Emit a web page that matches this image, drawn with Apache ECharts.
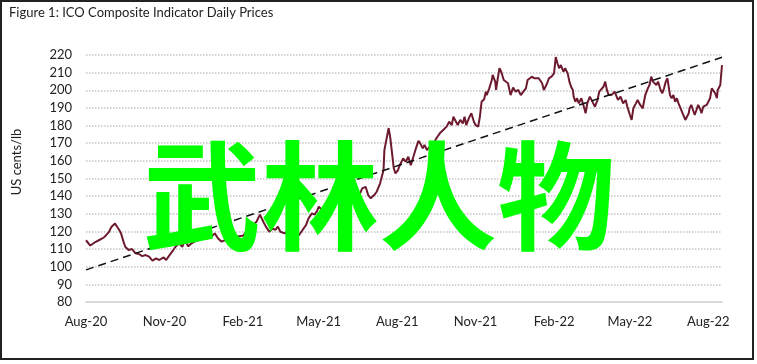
<!DOCTYPE html>
<html>
<head>
<meta charset="utf-8">
<script src="https://cdn.jsdelivr.net/npm/echarts@6/dist/echarts.min.js"></script>
<style>
html,body{margin:0;padding:0;background:#fff;}
#c{width:757px;height:364px;}
</style>
</head>
<body>
<div id="c"></div>
<script>
// Days since 2020-08-01
const days = [0,2,5,7,11,15,19,22,27,30,34,36,39,41,44,46,50,54,58,62,66,70,74,78,82,86,91,94,98,101,105,109,113,116,120,123,127,131,135,141,147,151,155,159,163,169,175,184,188,194,200,204,208,211,215,219,222,225,228,233,237,241,246,250,254,258,261,265,268,271,273,277,281,285,289,293,298,304,309,315,321,324,328,331,334,338,341,345,346,349,350,353,355,357,359,361,363,366,368,372,375,378,381,384,387,390,392,395,397,400,403,408,411,415,419,423,426,429,431,434,436,439,442,444,446,449,452,455,457,460,462,464,467,469,470,473,476,477,480,481,483,485,487,490,492,495,498,501,504,507,510,513,516,518,520,523,526,528,531,535,537,540,543,546,549,551,553,555,557,560,562,565,567,569,571,572,574,576,578,581,584,586,588,591,593,595,597,600,602,604,607,609,611,613,617,620,622,624,627,630,633,635,638,640,642,645,647,650,653,655,656,659,661,663,665,667,669,671,674,676,678,680,682,684,685,687,689,691,693,695,697,699,701,703,705,707,708,710,712,714,716,718,720,722,724,726,728,730,732,734,736,738,740,741,742,744,746];
// ICO composite indicator, US cents/lb
const prices = [115,116,112,111,114,115,116,117,119.8,122.7,124.5,123.6,120.8,119,114.2,111.3,109.5,110,107.6,107.2,106,106.6,105.7,103.4,104.7,103.8,105.3,103.8,106.6,108.5,111.3,113.3,111.3,115.1,111.5,113,114.2,115,116,116,117,118.9,116,114.2,115,116,117,117.5,119.8,122.7,125.5,129.5,125.5,122.7,119.8,121.7,120.8,122.7,119.8,118.9,120,119,117,118,120.8,123.6,127.4,130.2,129.5,131.5,134,132.1,132.9,134,135.9,137.8,139,137,140,142,141,144.4,145.3,140.6,138.8,140.6,142.5,147.3,146.3,154.8,166.1,173.7,178.6,172.8,164.3,155.8,152.9,154.8,157.5,161.4,159.5,162.3,157.6,162.3,167.1,171.4,169.9,167.1,169,166.1,168,170,172.8,175.6,177.5,179.4,182.2,180.3,185,182.2,180.3,183.2,181.2,185,180.3,184.1,187,182.2,180.3,179.4,185,193.5,194.9,199.2,197.3,201.1,205.8,208.7,204.9,200.2,206.8,212.5,210.5,205.8,204.9,204,197.3,201.5,199.2,200.2,197.3,199.2,201.1,205.8,206.8,207.7,206.8,205.8,206.8,204,200.2,203,206.8,207.7,209.6,218.8,215.3,212.5,214.3,210.5,212.5,209.6,204.9,202,200.2,196.4,193.5,195.5,192.6,195.5,190.7,187,192.6,196.4,195.5,192.6,190.7,194.5,199.2,200.2,202,204.9,200.2,197.3,197.5,199.2,200.2,194.5,196.4,192.6,194.5,190.7,186,183.2,189.8,192.6,194.5,191.7,189.8,188.8,197.3,201.1,203,207.7,204.9,205.8,203,204.9,200.2,198.3,201.1,204.9,206.8,207.7,197.3,195.5,197.3,193.5,195.5,192.6,191.7,187.9,187,183.2,182.2,187,189.8,191.7,188.8,186,188.8,191.7,189.8,187,190.7,190.7,191.7,190.7,195.5,201.1,200.2,198.3,195.5,200.2,201.1,203,214.3];
// Linear trend end points
const trendDays = [0, 746];
const trendValues = [98.2, 218.7];
// Tick labels
const xTickDays = [0, 92, 184, 273, 365, 457, 549, 638, 730];
const xTickLabels = ['Aug-20','Nov-20','Feb-21','May-21','Aug-21','Nov-21','Feb-22','May-22','Aug-22'];

const FONT = 'Lato, "Noto Sans", sans-serif';
const chart = echarts.init(document.getElementById('c'), null, {renderer: 'canvas'});
chart.setOption({
  animation: false,
  backgroundColor: '#fff',
  grid: {left: 86, right: 35, top: 55, bottom: 62},
  xAxis: {
    type: 'value', min: 0, max: 746,
    axisLine: {show: true, onZero: false, lineStyle: {color: '#d9d9d9', width: 2}},
    axisTick: {show: false},
    splitLine: {show: false},
    axisLabel: {
      customValues: xTickDays,
      formatter: v => xTickLabels[xTickDays.indexOf(v)] || '',
      color: '#222', fontFamily: FONT, fontSize: 13, margin: 13
    }
  },
  yAxis: {
    type: 'value', min: 80, max: 220, interval: 10,
    axisLine: {show: false}, axisTick: {show: false},
    splitLine: {lineStyle: {color: '#c4c4c4', width: 1.5, type: [1.5, 1.5]}},
    axisLabel: {color: '#222', fontFamily: FONT, fontSize: 13, margin: 14}
  },
  series: [
    {type: 'line', data: days.map((d, i) => [d, prices[i]]), showSymbol: false,
     lineStyle: {color: '#6d1a2e', width: 2}, z: 2},
    {type: 'line', data: trendDays.map((d, i) => [d, trendValues[i]]), showSymbol: false,
     lineStyle: {color: '#111', width: 1.5, type: [8, 5]}, z: 3}
  ],
  graphic: [
    {type: 'rect', shape: {x: 1, y: 1, width: 752, height: 358}, style: {fill: 'none', stroke: '#222', lineWidth: 2}, z: 10},
    {type: 'text', left: 9, top: 6, style: {text: 'Figure 1: ICO Composite Indicator Daily Prices', font: '13px ' + FONT, fill: '#222'}, z: 10},
    {type: 'text', x: 17, y: 162, rotation: Math.PI / 2, style: {text: 'US cents/lb', font: '13px ' + FONT, fill: '#222', align: 'center', verticalAlign: 'middle'}, z: 10},
    {type: 'text', x: 379, y: 196, style: {text: '武林人物', font: 'bold 118px "Noto Sans CJK SC"', fill: '#00ff00', align: 'center', verticalAlign: 'middle'}, z: 20}
  ]
});
</script>
</body>
</html>
